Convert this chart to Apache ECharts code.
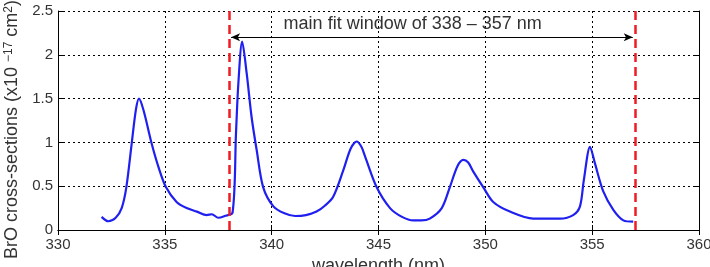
<!DOCTYPE html>
<html>
<head>
<meta charset="utf-8">
<script src="https://cdn.jsdelivr.net/npm/echarts@6/dist/echarts.min.js"></script>
<style>
  html, body { margin: 0; padding: 0; background: #fff; }
  #chart { width: 710px; height: 267px; }
</style>
</head>
<body>
<div id="chart"></div>
<script>
// Data
const wavelengths = [
  332.04, 332.35, 332.7, 332.98, 333.2, 333.45, 333.65, 333.79, 334.0, 334.38,
  334.7, 335.05, 335.55, 336.02, 336.5, 336.96, 337.2, 337.5, 337.8, 338.17,
  338.33, 338.44, 338.62, 338.83, 339.06, 339.3, 339.6, 340.08, 340.6, 341.1,
  341.6, 342.1, 342.5, 342.88, 343.35, 343.7, 343.98, 344.2, 344.37, 344.91,
  345.54, 346.1, 346.63, 347.0, 347.4, 347.96, 348.34, 348.7, 348.97, 349.2,
  349.43, 349.9, 350.37, 351.15, 352.24, 353.49, 354.11, 354.43, 354.61, 354.9,
  355.13, 355.52, 355.99, 356.46, 356.92
];
const crossSections = [
  0.15, 0.10, 0.14, 0.25, 0.49, 0.99, 1.38, 1.50, 1.37, 0.99,
  0.72, 0.49, 0.32, 0.25, 0.21, 0.17, 0.18, 0.14, 0.16, 0.20,
  1.10, 1.67, 2.15, 1.79, 1.29, 0.91, 0.49, 0.27, 0.19, 0.16,
  0.17, 0.21, 0.28, 0.38, 0.68, 0.93, 1.01, 0.95, 0.84, 0.49,
  0.25, 0.15, 0.11, 0.11, 0.13, 0.25, 0.49, 0.73, 0.80, 0.77,
  0.67, 0.49, 0.32, 0.21, 0.13, 0.13, 0.17, 0.27, 0.57, 0.95,
  0.76, 0.44, 0.23, 0.11, 0.095
];
const fitWindow = [338, 357];
const arrowEnds = [338.1, 356.9];
const arrowLevel = 2.2;
const windowLabel = 'main fit window of 338 \u2013 357 nm';
const labelAt = [346.6, 2.35];

const FONT = 'Liberation Sans, Arial, sans-serif';
const TEXT = '#333';

const chart = echarts.init(document.getElementById('chart'));

const gridLine = { show: true, lineStyle: { color: '#000', width: 1, type: [2, 3] } };
const frameLine = { show: true, lineStyle: { color: '#000', width: 1 } };
const tick = { show: true, inside: true, length: 5, lineStyle: { color: '#000' } };

const option = {
  animation: false,
  grid: { left: 58, right: 11, top: 11, bottom: 37, outerBoundsMode: 'none', containLabel: false },
  xAxis: [
    {
      type: 'value', min: 330, max: 360, interval: 5,
      axisLine: frameLine, axisTick: tick, splitLine: gridLine,
      axisLabel: { color: TEXT, fontSize: 15, fontFamily: FONT, margin: 7 },
      name: 'wavelength (nm)', nameLocation: 'middle', nameGap: 27,
      nameTextStyle: { color: TEXT, fontSize: 18, fontFamily: FONT }
    },
    {
      type: 'value', position: 'top', min: 330, max: 360, interval: 5,
      axisLine: frameLine, axisTick: tick, axisLabel: { show: false }, splitLine: { show: false }
    }
  ],
  yAxis: [
    {
      type: 'value', min: 0, max: 2.5, interval: 0.5,
      axisLine: frameLine, axisTick: tick, splitLine: gridLine,
      axisLabel: { color: TEXT, fontSize: 15, fontFamily: FONT, margin: 5 },
      name: 'BrO cross-sections (x10 {sup|\u221217} cm{sup|2})',
      nameLocation: 'middle', nameGap: 33, nameRotate: 90,
      nameTextStyle: {
        color: TEXT, fontSize: 18, fontFamily: FONT, padding: [0, 18, 0, 0],
        rich: { sup: { fontSize: 12, verticalAlign: 'top', color: TEXT, fontFamily: FONT, padding: [0, 0, 8, 0] } }
      }
    },
    {
      type: 'value', position: 'right', min: 0, max: 2.5, interval: 0.5,
      axisLine: frameLine, axisTick: tick, axisLabel: { show: false }, splitLine: { show: false }
    }
  ],
  series: [
    {
      type: 'line',
      data: wavelengths.map((w, i) => [w, crossSections[i]]),
      showSymbol: false,
      smooth: 0.3,
      lineStyle: { color: '#1f1ff0', width: 2.2 },
      z: 3,
      markLine: {
        silent: true,
        symbol: 'none',
        label: { show: false },
        data: fitWindow.map(x => ({
          xAxis: x,
          lineStyle: { color: '#ee1c25', width: 2.5, type: [9, 5] }
        }))
      }
    },
    {
      type: 'line',
      data: [],
      markLine: {
        silent: true,
        symbol: ['arrow', 'arrow'],
        symbolSize: [6, 9],
        label: { show: false },
        lineStyle: { color: '#000', width: 1, type: 'solid' },
        data: [[
          { coord: [arrowEnds[0], arrowLevel] },
          { coord: [arrowEnds[1], arrowLevel] }
        ]]
      },
      markPoint: {
        silent: true,
        symbol: 'circle',
        symbolSize: 0,
        label: {
          show: true, position: 'inside', color: TEXT,
          fontSize: 18, fontFamily: FONT, formatter: windowLabel
        },
        data: [{ coord: labelAt }]
      }
    }
  ]
};

chart.setOption(option);
</script>
</body>
</html>
